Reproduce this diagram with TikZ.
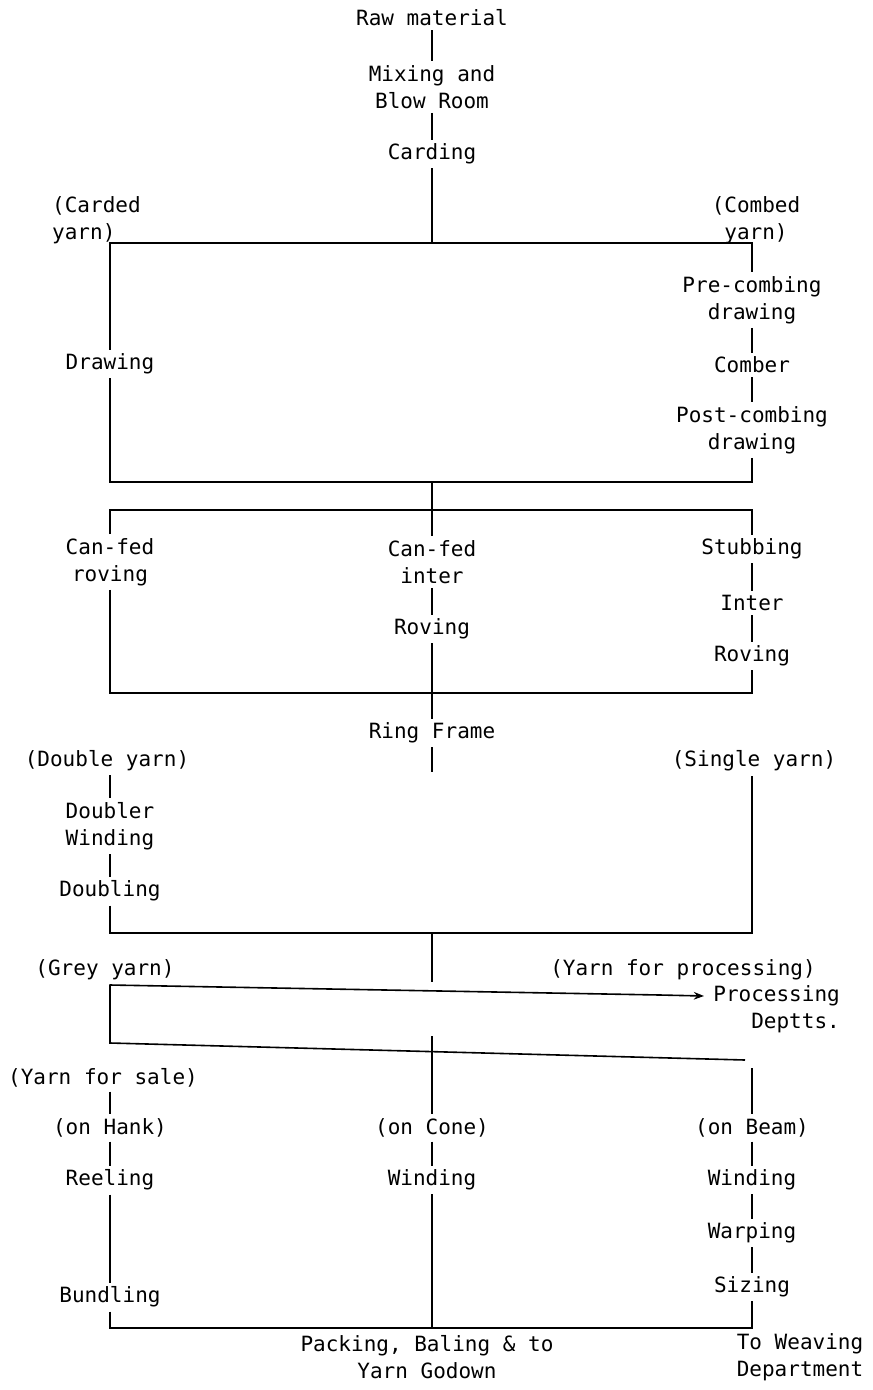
\documentclass[tikz,border=0pt]{standalone}
\usepackage{fontspec}
\setmainfont{DejaVu Sans Mono}
\usetikzlibrary{arrows.meta, positioning, calc}

\begin{document}
\begin{tikzpicture}[
          x=1pt, y=-1pt,
          every node/.style={font=\fontsize{21}{27}\selectfont, align=center, inner sep=4pt},
          link/.style={draw, line width=1.6pt},
          >=Stealth
        ]
        \useasboundingbox (0,0) rectangle (873,1390);
        % top part
        \node (raw) at (432,18) {Raw material};
        \node (mix) at (432,87) {Mixing and\\Blow Room};
        \node (card) at (432,154) {Carding};
        \node [anchor=west, align=left] (carded) at (48,220) {(Carded\\ yarn)};
        \node (combed) at (756,220) {(Combed\\yarn)};
        \node (drawing) at (110,364) {Drawing};
        \node (precomb) at (752,300) {Pre-combing\\drawing};
        \node (comber) at (752,365) {Comber};
        \node (postcomb) at (752,430) {Post-combing\\drawing};
        % roving
        \node (canrov) at (110,562) {Can-fed\\roving};
        \node (canint) at (432,562) {Can-fed\\inter};
        \node (stub) at (752,549) {Stubbing};
        \node (inter) at (752,603) {Inter};
        \node (rovc) at (432,629) {Roving};
        \node (rovr) at (752,656) {Roving};
        \node (ring) at (432,733) {Ring Frame};
        % doubling
        \node (double) at (107,761) {(Double yarn)};
        \node (single) at (754,761) {(Single yarn)};
        \node (doubler) at (110,826) {Doubler\\Winding};
        \node (doubling) at (110,891) {Doubling};
        \node (grey) at (105,970) {(Grey yarn)};
        \node (yproc) at (683,970) {(Yarn for processing)};
        \node [anchor=east, align=right] (proc) at (844,1009) {Processing\\Deptts.};
        \node (sale) at (103,1078) {(Yarn for sale)};
        % finishing
        \node (hank) at (110,1128) {(on Hank)};
        \node (cone) at (432,1128) {(on Cone)};
        \node (beam) at (752,1128) {(on Beam)};
        \node (reel) at (110,1180) {Reeling};
        \node (windc) at (432,1180) {Winding};
        \node (windr) at (752,1180) {Winding};
        \node (warp) at (752,1233) {Warping};
        \node (bund) at (110,1297) {Bundling};
        \node (siz) at (752,1287) {Sizing};
        \node (pack) at (427,1357) {Packing, Baling \& to\\Yarn Godown};
        \node (weave) at (800,1357) {To Weaving\\Department};
        % free ends
        \coordinate (ringend) at (432,772);
        \coordinate (procin) at (704,996);
        \coordinate (saleline) at (745,1060);
        \coordinate (beamtop) at (752,1068);
        \coordinate (conetop) at (432,1036);

        \draw [link] (raw) -- (mix);
        \draw [link] (mix) -- (card);
        \draw [link] (card) -- (432,243);
        \draw [link] (drawing.north) -- (110,243) -- (752,243) -- (precomb.north);
        \draw [link] (precomb) -- (comber);
        \draw [link] (comber) -- (postcomb);
        \draw [link] (postcomb.south) -- (752,482) -- (110,482) -- (drawing.south);
        \draw [link] (432,482) -- (432,510);
        \draw [link] (canrov.north) -- (110,510) -- (752,510) -- (stub.north);
        \draw [link] (432,510) -- (canint.north);
        \draw [link] (canint) -- (rovc);
        \draw [link] (stub) -- (inter);
        \draw [link] (inter) -- (rovr);
        \draw [link] (canrov.south) -- (110,693) -- (752,693) -- (rovr.south);
        \draw [link] (rovc) -- (ring);
        \draw [link] (ring.south) -- (ringend);
        \draw [link] (double.south -| doubler) -- (doubler.north);
        \draw [link] (doubler) -- (doubling);
        \draw [link] (doubling.south) -- (110,933) -- (752,933) -- (single.south -| 752,0);
        \draw [link] (432,933) -- (432,982);
        \draw [link] (grey.south -| 110,0) -- (110,1043) -- (saleline);
        \draw [link, ->] (110,985) -- (660,995) -- (procin);
        \draw [link] (conetop) -- (cone.north);
        \draw [link] (beamtop) -- (beam.north);
        \draw [link] (sale.south -| hank) -- (hank.north);
        \draw [link] (hank) -- (reel);
        \draw [link] (cone) -- (windc);
        \draw [link] (beam) -- (windr);
        \draw [link] (windr) -- (warp);
        \draw [link] (warp) -- (siz);
        \draw [link] (reel) -- (bund);
        \draw [link] (bund.south) -- (110,1328) -- (752,1328) -- (siz.south);
        \draw [link] (windc.south) -- (432,1328);
\end{tikzpicture}
\end{document}
